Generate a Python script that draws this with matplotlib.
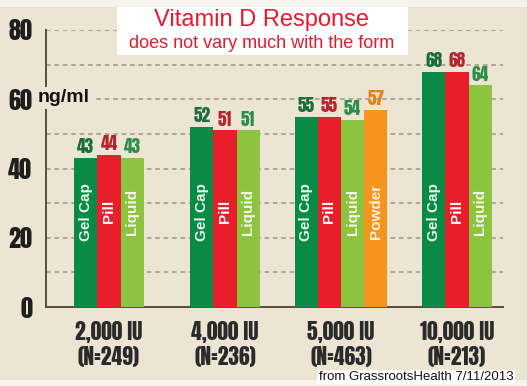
import matplotlib.pyplot as plt
from matplotlib.patches import Rectangle

# values
doses = ["2,000 IU\n(N=249)", "4,000 IU\n(N=236)", "5,000 IU\n(N=463)", "10,000 IU\n(N=213)"]
forms = ["Gel Cap", "Pill", "Liquid", "Powder"]
gel_cap = [43, 52, 55, 68]
pill = [44, 51, 55, 68]
liquid = [43, 51, 54, 64]
powder = [None, None, 57, None]

bar_colors = ["#0a8b45", "#e81e2a", "#8cc43f", "#f7941d"]
label_colors = ["#1b6b40", "#b3262d", "#2f8d4c", "#e5811c"]
text_colors = ["#e6f5ea", "#ffffff", "#f4f8ea", "#fdf1d8"]
bg = "#ece5d3"
narrow = "Anton"

fig = plt.figure(figsize=(5.27, 3.86), dpi=100, facecolor="#f6f3ec")
fig.add_artist(Rectangle((0, 1 - 380 / 386), 1, 373 / 386, transform=fig.transFigure,
                         facecolor=bg, edgecolor="none", zorder=-5))

ax = fig.add_axes([46 / 527, 1 - 307 / 386, 457 / 527, 277 / 386])
ax.patch.set_alpha(0)

series = [gel_cap, pill, liquid, powder]
width = 0.2
for g in range(len(doses)):
    vals = [s[g] for s in series if s[g] is not None]
    n = len(vals)
    for i, v in enumerate(vals):
        x = g + (i - (n - 1) / 2) * width
        ax.bar(x, v, width=width, color=bar_colors[i], zorder=3)
        ax.text(x, v + 0.8, str(v), ha="center", va="bottom", fontsize=12.5,
                family=narrow, color=label_colors[i], zorder=4)
        ax.text(x, 27.5, forms[i], rotation=90, ha="center", va="center",
                fontsize=11, family="Liberation Sans", weight="bold",
                color=text_colors[i], zorder=4)

for y in range(10, 81, 10):
    ax.axhline(y, color="#9d978a", lw=1.1, ls=(0, (3, 2.5)), zorder=1)

ax.set_xlim(-0.543, 3.397)
ax.set_ylim(0, 80)
ax.set_xticks(range(len(doses)))
ax.set_xticklabels(doses, family=narrow, fontsize=15.5,
                   color="#2a2a2a", linespacing=1.15)
ax.set_yticks([0, 20, 40, 60, 80])
ax.set_yticklabels(["0", "20", "40", "60", "80"], family=narrow,
                   fontsize=17.5, color="#1e1e1e")
ax.tick_params(length=0)
ax.tick_params(axis="y", pad=10)
ax.tick_params(axis="x", pad=10)
for side in ["top", "right"]:
    ax.spines[side].set_visible(False)
for side in ["left", "bottom"]:
    ax.spines[side].set_color("#5b4b3b")
    ax.spines[side].set_linewidth(1.4)

fig.text(38 / 527, 1 - 98 / 386, "ng/ml", ha="left", va="center", fontsize=14,
         family="Liberation Sans", weight="bold", color="#111111", zorder=2,
         bbox=dict(facecolor=bg, edgecolor="none", pad=2))

# title box
fig.add_artist(Rectangle((117 / 527, 1 - 55 / 386), 291 / 527, 48 / 386,
                         transform=fig.transFigure, facecolor="white",
                         edgecolor="none", zorder=1))
fig.text(262 / 527, 1 - 20 / 386, "Vitamin D Response", ha="center", va="center",
         fontsize=17, family="Liberation Sans", color="#e8192c", zorder=2)
fig.text(262 / 527, 1 - 44 / 386, "does not vary much with the form", ha="center",
         va="center", fontsize=13, family="Liberation Sans", color="#e8192c", zorder=2)

fig.text(416 / 527, 1 - 377 / 386, "from GrassrootsHealth 7/11/2013", ha="center",
         va="center", fontsize=9.5, family="Liberation Sans", color="#111111", zorder=2,
         bbox=dict(facecolor="white", edgecolor="none", pad=1))

fig.savefig("out.png", dpi=100, facecolor=fig.get_facecolor())
